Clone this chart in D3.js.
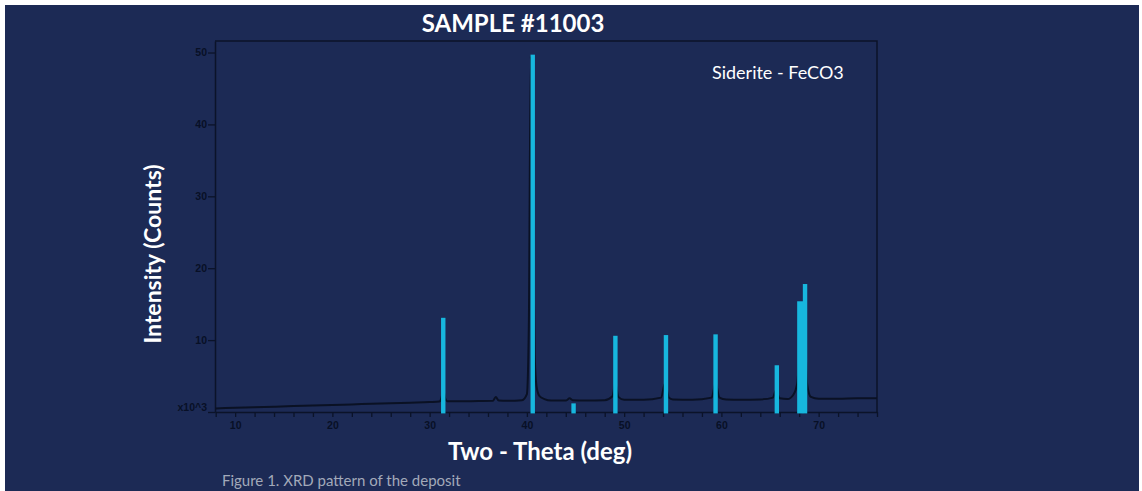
<!DOCTYPE html>
<html>
<head>
<meta charset="utf-8">
<script src="https://cdn.jsdelivr.net/npm/d3@7"></script>
<style>
  body { margin: 0; background: #ffffff; }
  svg { display: block; }
</style>
</head>
<body>
<div id="chart"></div>
<script>
// measured trace (two-theta in deg, counts in x10^3)
const traceTheta = [8.0, 10, 12, 14, 16, 18, 20, 22, 24, 26, 28, 30, 31.0, 31.2, 31.4, 31.6, 31.8, 33, 35, 36.5, 36.8, 37.1, 38, 39.5,
  40.0, 40.2, 40.4, 40.6, 40.8, 41.0, 41.3, 41.8, 42.5, 44, 44.4, 44.7, 46, 48, 48.8, 49.1, 49.4, 50, 52, 53.8, 54.2, 54.6, 55,
  57, 59, 59.4, 59.8, 60.5, 62, 64, 65.3, 65.6, 66.0, 66.8, 67.4, 67.8, 68.2, 68.5, 68.8, 69.2, 70, 72, 74, 76];
const traceCounts = [0.50, 0.58, 0.66, 0.74, 0.82, 0.90, 0.98, 1.06, 1.14, 1.22, 1.30, 1.38, 1.45, 1.9, 3.0, 1.9, 1.5, 1.5, 1.52, 1.55, 2.1, 1.6, 1.55, 1.65,
  2.5, 12, 49.5, 30, 8, 3.5, 2.2, 1.8, 1.6, 1.6, 1.9, 1.65, 1.6, 1.65, 2.2, 4, 2.1, 1.7, 1.7, 2.0, 4, 2.0, 1.75,
  1.7, 2.0, 4, 2.0, 1.75, 1.72, 1.75, 2.0, 3, 1.9, 1.8, 2.4, 4, 12, 14, 4, 2.1, 1.85, 1.85, 1.9, 1.9];

// siderite reference sticks
const refTheta = [31.4, 40.6, 44.8, 49.1, 54.3, 59.4, 65.7, 68.1, 68.6];
const refCounts = [13.1, 49.7, 1.2, 10.6, 10.7, 10.8, 6.5, 15.4, 17.8];

const yTicks = [10, 20, 30, 40, 50];
const xTicks = [10, 20, 30, 40, 50, 60, 70];

const W = 1142, H = 491;
const plot = { left: 215, top: 41, right: 877, bottom: 412 };

const svg = d3.select("#chart").append("svg")
  .attr("width", W)
  .attr("height", H);

svg.append("rect")
  .attr("x", 5).attr("y", 5)
  .attr("width", 1134).attr("height", H - 5)
  .attr("fill", "#1c2a55");

const x = d3.scaleLinear().domain([7.93, 76.0]).range([plot.left, plot.right]);
const y = d3.scaleLinear().domain([0, 51.6]).range([plot.bottom, plot.top]);

const axisColor = "#0b1329";

// x axis
const gx = svg.append("g")
  .attr("transform", "translate(0," + plot.bottom + ")")
  .call(d3.axisBottom(x)
    .tickValues(d3.range(8, 77, 2))
    .tickSize(5)
    .tickSizeOuter(0)
    .tickFormat(d => xTicks.includes(d) ? d : ""));
gx.select(".domain").attr("stroke", axisColor).attr("stroke-width", 1.5);
gx.selectAll(".tick line").attr("stroke", axisColor).attr("stroke-width", 1.3);
gx.selectAll(".tick text")
  .attr("fill", "#081026")
  .attr("font-family", "Liberation Sans, Arial, sans-serif")
  .attr("font-weight", "bold")
  .attr("font-size", 10.5)
  .attr("dy", "0.85em");

// y axis
const gy = svg.append("g")
  .attr("transform", "translate(" + plot.left + ",0)")
  .call(d3.axisLeft(y)
    .tickValues([0].concat(yTicks))
    .tickSize(7)
    .tickSizeOuter(0)
    .tickFormat(d => d === 0 ? "x10^3" : d));
gy.select(".domain").attr("stroke", axisColor).attr("stroke-width", 1.5);
gy.selectAll(".tick line").attr("stroke", axisColor).attr("stroke-width", 1.3);
gy.selectAll(".tick text")
  .attr("fill", "#081026")
  .attr("font-family", "Liberation Sans, Arial, sans-serif")
  .attr("font-weight", "bold")
  .attr("font-size", 10.5)
  .attr("dy", (d) => d === 0 ? "-0.1em" : "0.32em")
  .attr("x", -8);

// frame top + right
svg.append("path")
  .attr("d", "M" + plot.left + "," + plot.top + "H" + plot.right + "V" + plot.bottom)
  .attr("fill", "none")
  .attr("stroke", axisColor)
  .attr("stroke-width", 1.5);

// measured trace
const trace = traceTheta.map((t, i) => [t, traceCounts[i]]);
svg.append("path")
  .datum(trace)
  .attr("fill", "none")
  .attr("stroke", "#0a1124")
  .attr("stroke-width", 2)
  .attr("d", d3.line().x(d => x(d[0])).y(d => y(d[1])).curve(d3.curveMonotoneX));

// reference sticks
svg.selectAll(".ref")
  .data(refTheta)
  .enter()
  .append("rect")
  .attr("class", "ref")
  .attr("x", (d, i) => x(d) - (i === 7 ? 3 : 2.2))
  .attr("y", (d, i) => y(refCounts[i]))
  .attr("width", (d, i) => i === 7 ? 6 : 4.4)
  .attr("height", (d, i) => y(-0.2) - y(refCounts[i]))
  .attr("fill", "#17b7de");

// texts
svg.append("text")
  .attr("x", 513).attr("y", 32)
  .attr("text-anchor", "middle")
  .attr("fill", "#ffffff")
  .attr("font-family", "Lato, 'Open Sans', sans-serif")
  .attr("font-weight", "bold")
  .attr("font-size", 24)
  .text("SAMPLE #11003");

svg.append("text")
  .attr("x", 712).attr("y", 79)
  .attr("fill", "#ffffff")
  .attr("font-family", "Lato, 'Open Sans', sans-serif")
  .attr("font-size", 18)
  .text("Siderite - FeCO3");

svg.append("text")
  .attr("transform", "translate(161,254) rotate(-90)")
  .attr("text-anchor", "middle")
  .attr("fill", "#ffffff")
  .attr("font-family", "Lato, 'Open Sans', sans-serif")
  .attr("font-weight", "bold")
  .attr("font-size", 23)
  .text("Intensity (Counts)");

svg.append("text")
  .attr("x", 540).attr("y", 460)
  .attr("text-anchor", "middle")
  .attr("fill", "#ffffff")
  .attr("font-family", "Lato, 'Open Sans', sans-serif")
  .attr("font-weight", "bold")
  .attr("font-size", 24)
  .text("Two - Theta (deg)");

svg.append("text")
  .attr("x", 222).attr("y", 486)
  .attr("fill", "#a2a9b9")
  .attr("font-family", "Lato, 'Open Sans', sans-serif")
  .attr("font-size", 15)
  .text("Figure 1. XRD pattern of the deposit");
</script>
</body>
</html>
